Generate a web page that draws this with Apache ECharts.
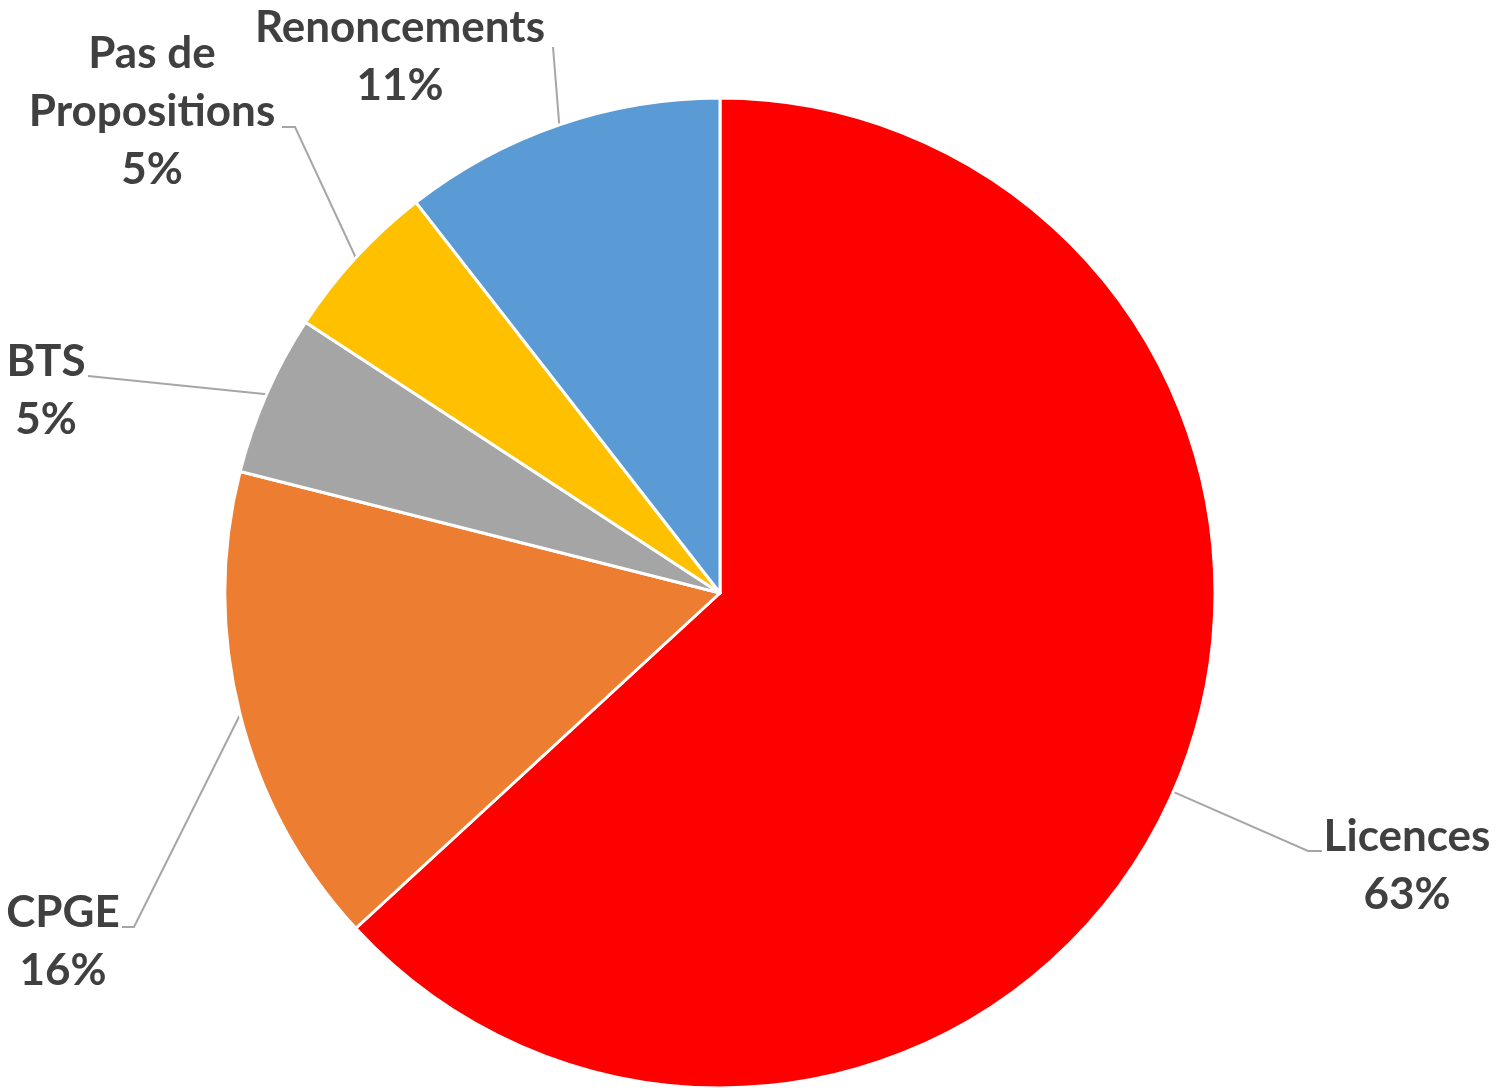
<!DOCTYPE html>
<html>
<head>
<meta charset="utf-8">
<script src="https://cdn.jsdelivr.net/npm/echarts@6/dist/echarts.min.js"></script>
<style>
html,body{margin:0;padding:0;background:#fff;}
#chart{width:1497px;height:1088px;}
</style>
</head>
<body>
<div id="chart"></div>
<script>
const categories = ['Licences', 'CPGE', 'BTS', 'Pas de Propositions', 'Renoncements'];
const values = [120, 30, 10, 10, 20];
const colors = ['#FF0000', '#ED7D31', '#A5A5A5', '#FFC000', '#5B9BD5'];

// label placement (centre of text block, bend point, end point of leader line)
const labelPos = [
  { x: 1407, y: 866, bend: [1308, 851], end: [1322, 851] },
  { x: 63, y: 942, bend: [134, 927], end: [122, 927] },
  { x: 46, y: 391, bend: null, end: [88, 376] },
  { x: 152, y: 112, bend: [295, 127], end: [282, 127] },
  { x: 400, y: 57, bend: null, end: [553, 47] }
];

const chart = echarts.init(document.getElementById('chart'));
chart.setOption({
  animation: false,
  series: [{
    type: 'pie',
    center: [720, 593],
    radius: 495,
    startAngle: 90,
    clockwise: true,
    percentPrecision: 0,
    data: categories.map((c, i) => ({ name: c, value: values[i], itemStyle: { color: colors[i] } })),
    itemStyle: { borderColor: '#ffffff', borderWidth: 3 },
    label: {
      show: true,
      position: 'outside',
      formatter: p => (p.name === 'Pas de Propositions' ? 'Pas de\nPropositions' : p.name) + '\n' + p.percent + '%',
      fontFamily: 'Lato',
      fontWeight: 'bold',
      fontSize: 44,
      lineHeight: 58,
      color: '#404040',
      align: 'center'
    },
    labelLine: {
      show: true,
      length: 20,
      length2: 20,
      lineStyle: { color: '#A6A6A6', width: 2 }
    },
    labelLayout: function (params) {
      const lp = labelPos[params.dataIndex];
      const start = params.labelLinePoints ? params.labelLinePoints[0] : null;
      const res = { x: lp.x, y: lp.y, align: 'center', verticalAlign: 'middle' };
      if (start) {
        const pts = [start];
        if (lp.bend) { pts.push(lp.bend); } else { pts.push(lp.end); }
        pts.push(lp.end);
        res.labelLinePoints = pts;
      }
      return res;
    },
    emphasis: { disabled: true }
  }]
});
</script>
</body>
</html>
